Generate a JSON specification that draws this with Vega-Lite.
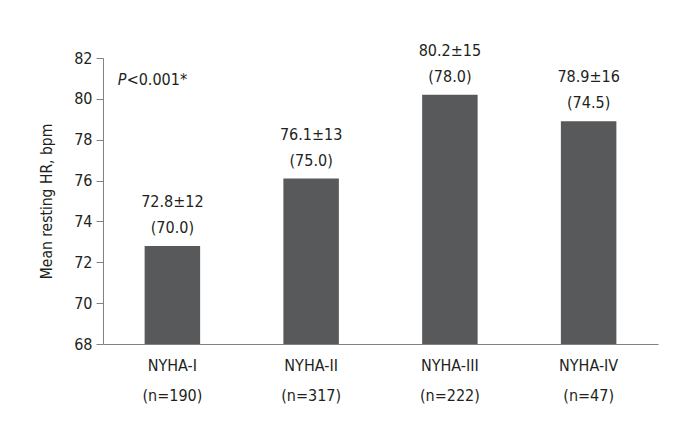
{
  "$schema": "https://vega.github.io/schema/vega-lite/v6.json",
  "autosize": "none",
  "width": 555,
  "height": 286,
  "padding": {"left": 103, "top": 58, "right": 22, "bottom": 80},
  "background": "white",
  "config": {
    "font": "DejaVu Sans Condensed, Roboto, sans-serif",
    "view": {"stroke": null},
    "axis": {"labelFont": "DejaVu Sans Condensed, Roboto, sans-serif", "titleFont": "DejaVu Sans Condensed, Roboto, sans-serif", "labelColor": "#231f20", "titleColor": "#231f20", "labelFontSize": 16, "titleFontSize": 15.5, "titleFontWeight": "normal", "domainColor": "#808285", "tickColor": "#808285", "grid": false}
  },
  "data": {"values": [
    {"group": "NYHA-I|(n=190)", "hr": 72.8, "label": "72.8±12|(70.0)"},
    {"group": "NYHA-II|(n=317)", "hr": 76.1, "label": "76.1±13|(75.0)"},
    {"group": "NYHA-III|(n=222)", "hr": 80.2, "label": "80.2±15|(78.0)"},
    {"group": "NYHA-IV|(n=47)", "hr": 78.9, "label": "78.9±16|(74.5)"}
  ]},
  "encoding": {
    "x": {"field": "group", "type": "nominal", "sort": null,
      "scale": {"paddingInner": 0.6, "paddingOuter": 0.3},
      "axis": {"title": null, "labelAngle": 0, "ticks": false, "labelPadding": 13, "labelExpr": "split(datum.value, '|')", "labelLineHeight": 30, "labelBaseline": "top"}},
    "y": {"field": "hr", "type": "quantitative",
      "scale": {"domain": [68, 82], "zero": false, "nice": false},
      "axis": {"title": "Mean resting HR, bpm", "values": [68, 70, 72, 74, 76, 78, 80, 82], "tickSize": 7, "labelPadding": 4, "titlePadding": 19}}
  },
  "layer": [
    {"mark": {"type": "bar", "color": "#58595b", "clip": true}},
    {"mark": {"type": "text", "baseline": "alphabetic", "dy": -39, "fontSize": 16, "lineHeight": 26, "lineBreak": "|", "color": "#231f20"},
     "encoding": {"text": {"field": "label", "type": "nominal"}}},
    {"data": {"values": [{"p": "P", "rest": "<0.001*", "y": 81}]},
     "layer": [
       {"mark": {"type": "text", "align": "left", "baseline": "alphabetic", "dx": -27, "dy": 7, "fontSize": 16, "fontStyle": "italic", "color": "#231f20"},
        "encoding": {"x": {"datum": "NYHA-I|(n=190)", "bandPosition": 0}, "y": {"field": "y", "type": "quantitative"}, "text": {"field": "p"}}},
       {"mark": {"type": "text", "align": "left", "baseline": "alphabetic", "dx": -18, "dy": 7, "fontSize": 16, "color": "#231f20"},
        "encoding": {"x": {"datum": "NYHA-I|(n=190)", "bandPosition": 0}, "y": {"field": "y", "type": "quantitative"}, "text": {"field": "rest"}}}
     ]}
  ]
}
